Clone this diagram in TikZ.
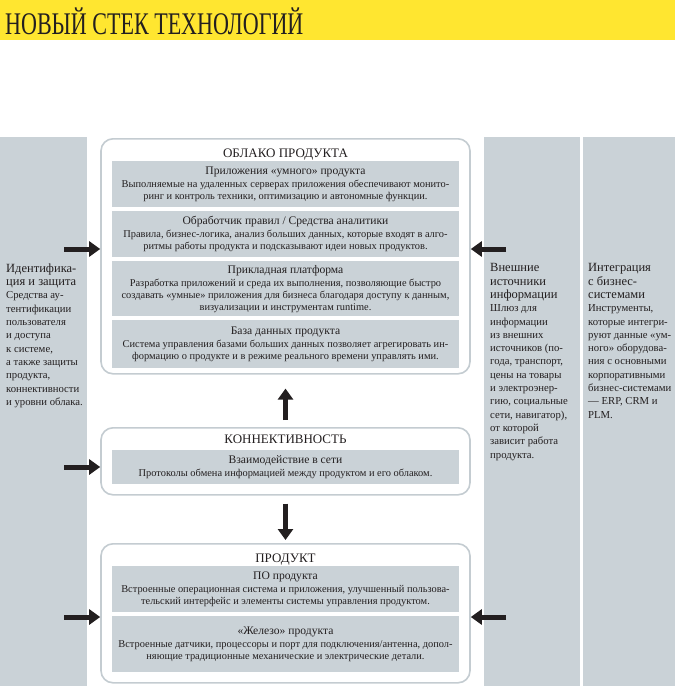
\documentclass[tikz,border=0pt]{standalone}
\usepackage{fontspec}
\setmainfont{Liberation Serif}
\usepackage{graphicx}
\usepackage{tikz}
\usetikzlibrary{arrows.meta,positioning}
\definecolor{stackyellow}{HTML}{FFE630}
\definecolor{stackgrey}{HTML}{CAD2D7}
\definecolor{stackline}{HTML}{C4CCD1}
\definecolor{stackdark}{HTML}{231F20}
\newcommand{\parthead}[1]{{\fontsize{11.6}{13}\selectfont #1}\\[1pt]}
\newcommand{\sidehead}[1]{{\fontsize{12.5}{13.3}\selectfont #1}}

\tikzset{
  sidebar/.style={fill=stackgrey, anchor=north west, inner sep=0pt},
  sidetext/.style={anchor=north west, inner sep=0pt, align=left, text=stackdark,
    font=\fontsize{10.7}{13.3}\selectfont},
  tierbox/.style={draw=stackline, line width=1.6pt, fill=white, rounded corners=12pt,
    anchor=north, minimum width=369, inner sep=0pt},
  tiertitle/.style={anchor=base, inner sep=0pt, text=stackdark, font=\fontsize{13}{15}\selectfont},
  partbox/.style={fill=stackgrey, anchor=north, minimum width=347, inner sep=0pt,
    align=center, text=stackdark, font=\fontsize{10.4}{12}\selectfont},
  flowarrow/.style={stackdark, line width=5pt, -{Triangle[length=11pt,width=15pt]}},
}

\begin{document}
\begin{tikzpicture}[x=1pt, y=-1pt]
  \useasboundingbox (0,0) rectangle (675,686);

  % banner
  \fill[stackyellow] (0,0) rectangle (675,40);
  \node[anchor=base west, inner sep=0pt, text=stackdark] (title) at (5,34)
    {\scalebox{0.7}[1]{\fontsize{31.5}{36}\selectfont НОВЫЙ СТЕК ТЕХНОЛОГИЙ}};

  % side columns
  \node[sidebar, minimum width=87, minimum height=549] (ident) at (0,137) {};
  \node[sidebar, minimum width=96, minimum height=549] (sources) at (484,137) {};
  \node[sidebar, minimum width=92, minimum height=549] (business) at (583,137) {};

  \node[sidetext] (identtext) at (6,263.5) {%
    \sidehead{Идентифика-}\\ \sidehead{ция и защита}\\
    Средства ау-\\ тентификации\\ пользователя\\ и доступа\\ к системе,\\
    а также защиты\\ продукта,\\ коннективности\\ и уровни облака.};
  \node[sidetext] (sourcestext) at (490,263.5) {%
    \sidehead{Внешние}\\ \sidehead{источники}\\ \sidehead{информации}\\
    Шлюз для\\ информации\\ из внешних\\ источников (по-\\ года, транспорт,\\
    цены на товары\\ и электроэнер-\\ гию, социальные\\ сети, навигатор),\\
    от которой\\ зависит работа\\ продукта.};
  \node[sidetext] (businesstext) at (588,263.5) {%
    \sidehead{Интеграция}\\ \sidehead{с бизнес-}\\ \sidehead{системами}\\
    Инструменты,\\ которые интегри-\\ руют данные «ум-\\ ного» оборудова-\\
    ния с основными\\ корпоративными\\ бизнес-системами\\ — ERP, CRM и\\ PLM.};

  % cloud
  \node[tierbox, minimum height=235] (cloud) at (285.5,138) {};
  \node[tiertitle] (cloudtitle) at (285.5,157.5) {ОБЛАКО ПРОДУКТА};
  \node[partbox, minimum height=46] (apps) at (285.5,161) {%
    \parthead{Приложения «умного» продукта}
    Выполняемые на удаленных серверах приложения обеспечивают монито-\\
    ринг и контроль техники, оптимизацию и автономные функции.};
  \node[partbox, minimum height=46] (rules) at (285.5,211) {%
    \parthead{Обработчик правил / Средства аналитики}
    Правила, бизнес-логика, анализ больших данных, которые входят в алго-\\
    ритмы работы продукта и подсказывают идеи новых продуктов.};
  \node[partbox, minimum height=55] (platform) at (285.5,261) {%
    \parthead{Прикладная платформа}
    Разработка приложений и среда их выполнения, позволяющие быстро\\
    создавать «умные» приложения для бизнеса благодаря доступу к данным,\\
    визуализации и инструментам runtime.};
  \node[partbox, minimum height=48] (database) at (285.5,320) {%
    \parthead{База данных продукта}
    Система управления базами больших данных позволяет агрегировать ин-\\
    формацию о продукте и в режиме реального времени управлять ими.};

  % connectivity
  \node[tierbox, minimum height=67] (link) at (285.5,427) {};
  \node[tiertitle] (linktitle) at (285.5,443) {КОННЕКТИВНОСТЬ};
  \node[partbox, minimum height=34] (network) at (285.5,450) {%
    \parthead{Взаимодействие в сети}
    Протоколы обмена информацией между продуктом и его облаком.};

  % product
  \node[tierbox, minimum height=139] (product) at (285.5,543) {};
  \node[tiertitle] (producttitle) at (285.5,562) {ПРОДУКТ};
  \node[partbox, minimum height=46] (software) at (285.5,566) {%
    \parthead{ПО продукта}
    Встроенные операционная система и приложения, улучшенный пользова-\\
    тельский интерфейс и элементы системы управления продуктом.};
  \node[partbox, minimum height=56] (hardware) at (285.5,616) {%
    \parthead{«Железо» продукта}
    Встроенные датчики, процессоры и порт для подключения/антенна, допол-\\
    няющие традиционные механические и электрические детали.};

  % arrows
  \coordinate (identcloud) at (64,249);
  \coordinate (identlink) at (64,467);
  \coordinate (identproduct) at (64,617);
  \coordinate (sourcescloud) at (506,249);
  \coordinate (sourcesproduct) at (506,617);
  \draw[flowarrow] (identcloud) -- (identcloud -| cloud.west);
  \draw[flowarrow] (identlink) -- (identlink -| link.west);
  \draw[flowarrow] (identproduct) -- (identproduct -| product.west);
  \draw[flowarrow] (sourcescloud) -- (sourcescloud -| cloud.east);
  \draw[flowarrow] (sourcesproduct) -- (sourcesproduct -| product.east);
  \draw[flowarrow, shorten <=7pt, shorten >=14pt] (link.north) -- (cloud.south);
  \draw[flowarrow, shorten <=8pt, shorten >=3pt] (link.south) -- (product.north);
\end{tikzpicture}
\end{document}
